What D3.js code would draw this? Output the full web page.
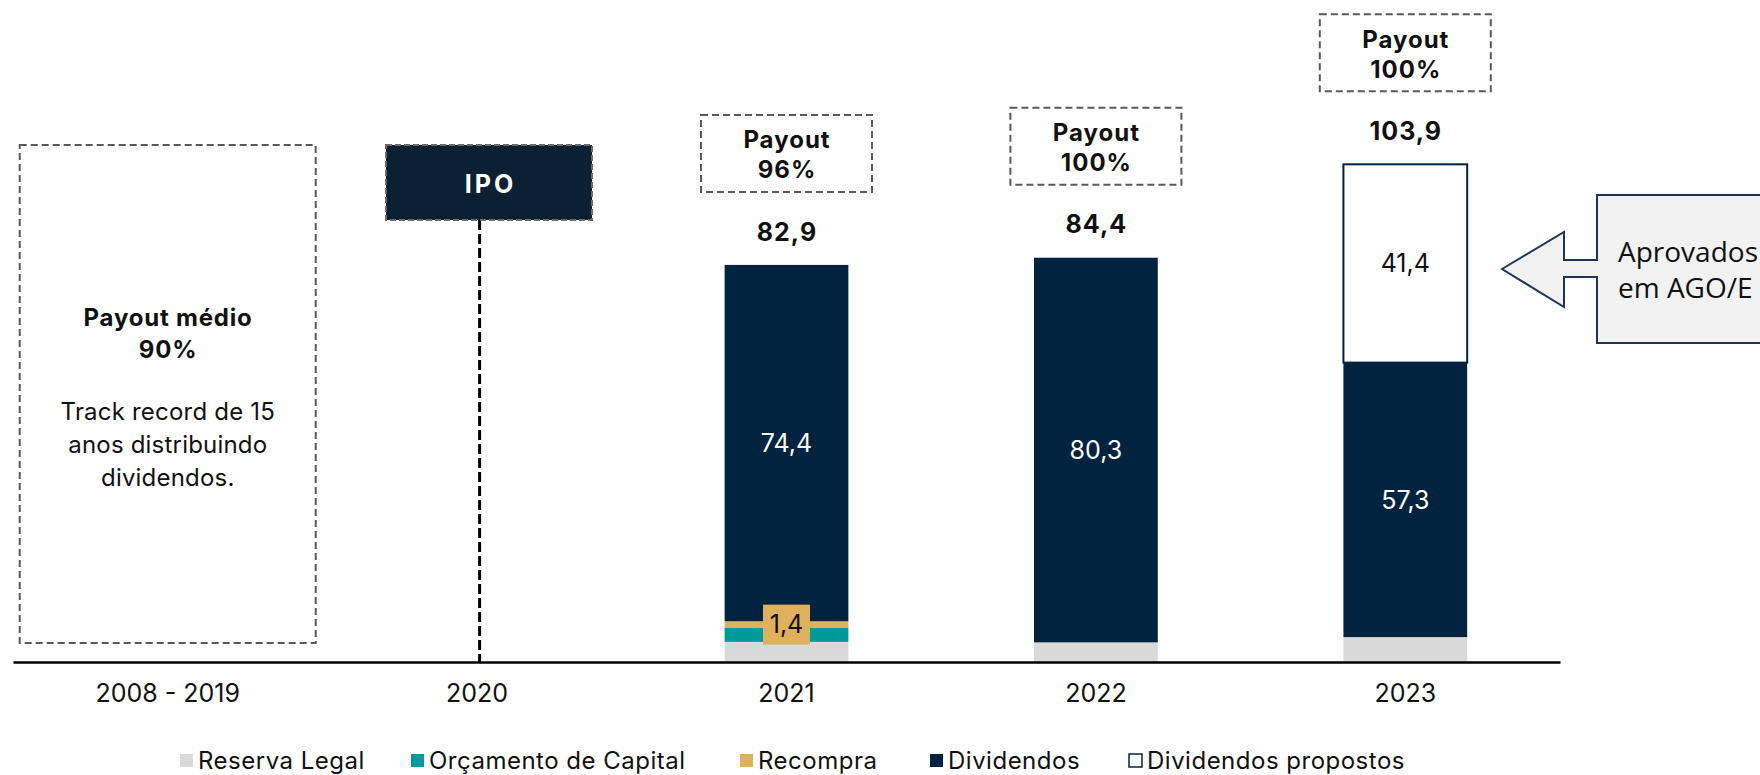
<!DOCTYPE html>
<html><head><meta charset="utf-8">
<script src="https://cdn.jsdelivr.net/npm/d3@7"></script>
<style>
html,body{margin:0;padding:0;background:#fff;}
svg{display:block;font-family:Inter,"Noto Sans",sans-serif;}
</style></head>
<body>
<svg id="c" width="1760" height="775"></svg>
<script>
// ---- data ----
const categories = ["2008 - 2019", "2020", "2021", "2022", "2023"];
const reservaLegal = [0, 0, 4.2, 4.1, 5.2];
const orcamentoCapital = [0, 0, 2.9, 0, 0];
const recompra = [0, 0, 1.4, 0, 0];
const dividendos = [0, 0, 74.4, 80.3, 57.3];
const dividendosPropostos = [0, 0, 0, 0, 41.4];
const totals = [null, null, 82.9, 84.4, 103.9];
const payoutLabels = [null, null, "96%", "100%", "100%"];
const seriesNames = ["Reserva Legal", "Orçamento de Capital", "Recompra", "Dividendos", "Dividendos propostos"];
const leftNoteTitle = ["Payout médio", "90%"];
const leftNoteText = ["Track record de 15", "anos distribuindo", "dividendos."];
const calloutText = ["Aprovados", "em AGO/E"];

// ---- setup ----
const svg = d3.select("#c");
const navy = "#02233f";
const colors = ["#d9d9d9", "#009a9a", "#dfb15f", navy, "#ffffff"];
const fmt = d3.formatLocale({decimal: ",", thousands: ".", grouping: [3], currency: ["", ""]}).format(".1f");

const x = d3.scaleBand().domain(categories).range([13, 1560]).paddingInner(0.6).paddingOuter(0.3);
const y = d3.scaleLinear().domain([0, 100]).range([662, 183]);

const rows = categories.map((c, i) => ({
  cat: c, reservaLegal: reservaLegal[i], orcamentoCapital: orcamentoCapital[i],
  recompra: recompra[i], dividendos: dividendos[i], dividendosPropostos: dividendosPropostos[i]
}));
const keys = ["reservaLegal", "orcamentoCapital", "recompra", "dividendos", "dividendosPropostos"];
const stack = d3.stack().keys(keys)(rows);

// helper: centred text with letter-spacing compensation
function ctext(sel, tx, ty, str, size, weight, fill, ls) {
  ls = ls || 0;
  return sel.append("text").attr("x", tx + ls / 2).attr("y", ty).attr("dy", "0.35em")
    .attr("text-anchor", "middle").attr("font-size", size).attr("font-weight", weight || 400)
    .attr("letter-spacing", ls).attr("fill", fill || "#111").text(str);
}

// bars
const g = svg.append("g");
stack.forEach((layer, li) => {
  g.selectAll(null).data(layer.filter(d => d[1] - d[0] > 0)).enter().append("rect")
    .attr("x", d => x(d.data.cat))
    .attr("width", x.bandwidth())
    .attr("y", d => y(d[1]))
    .attr("height", d => y(d[0]) - y(d[1]))
    .attr("fill", colors[li])
    .attr("stroke", li === 4 ? navy : "none")
    .attr("stroke-width", li === 4 ? 2 : 0);
});

// segment labels
stack[3].filter(d => d[1] - d[0] > 0).forEach(d => {
  ctext(g, x(d.data.cat) + x.bandwidth() / 2, (y(d[0]) + y(d[1])) / 2, fmt(d[1] - d[0]), 25, 400, "#fff");
});
stack[4].filter(d => d[1] - d[0] > 0).forEach(d => {
  ctext(g, x(d.data.cat) + x.bandwidth() / 2, (y(d[0]) + y(d[1])) / 2, fmt(d[1] - d[0]), 25, 400, "#111");
});
stack[2].filter(d => d[1] - d[0] > 0).forEach(d => {
  const cx = x(d.data.cat) + x.bandwidth() / 2, cy = (y(d[0]) + y(d[1])) / 2;
  g.append("rect").attr("x", cx - 23.5).attr("y", cy - 20).attr("width", 47).attr("height", 40).attr("fill", colors[2]);
  ctext(g, cx, cy, fmt(d[1] - d[0]), 25, 400, "#111");
});

// totals + payout boxes
categories.forEach((c, i) => {
  if (totals[i] == null) return;
  const cx = x(c) + x.bandwidth() / 2;
  const top = y(totals[i]);
  ctext(g, cx, top - 33, fmt(totals[i]), 25, 700, "#111", 1);
  const bh = 77, bw = 171, by = top - 73 - bh;
  g.append("rect").attr("x", cx - bw / 2).attr("y", by).attr("width", bw).attr("height", bh)
    .attr("fill", "none").attr("stroke", "#595959").attr("stroke-width", 2).attr("stroke-dasharray", "7,4");
  ctext(g, cx, by + 25, "Payout", 24, 700, "#111", 1);
  ctext(g, cx, by + 55, payoutLabels[i], 24, 700, "#111", 1);
});

// left note box
{
  const cx = x(categories[0]) + x.bandwidth() / 2;
  g.append("rect").attr("x", cx - 148).attr("y", 145).attr("width", 296).attr("height", 498)
    .attr("fill", "none").attr("stroke", "#595959").attr("stroke-width", 2).attr("stroke-dasharray", "7,4");
  leftNoteTitle.forEach((t, k) => ctext(g, cx, 318 + k * 32, t, 24, 700, "#111", 0.8));
  leftNoteText.forEach((t, k) => ctext(g, cx, 412 + k * 33, t, 24, 400, "#111", 0.2));
}

// IPO
{
  const cx = x(categories[1]) + x.bandwidth() / 2 + 2.5;
  g.append("line").attr("x1", cx).attr("x2", cx).attr("y1", 220).attr("y2", 662)
    .attr("stroke", "#000").attr("stroke-width", 3).attr("stroke-dasharray", "10,4");
  g.append("rect").attr("x", 386).attr("y", 145).attr("width", 206).attr("height", 75)
    .attr("fill", "#0b2133").attr("stroke", "#6b6b6b").attr("stroke-width", 2).attr("stroke-dasharray", "6,3");
  ctext(g, 489, 184, "IPO", 25, 700, "#fff", 3);
}

// axis
const ax = svg.append("g").attr("transform", "translate(0,662)")
  .call(d3.axisBottom(x).tickSize(0).tickPadding(22));
ax.select(".domain").attr("stroke", "#000").attr("stroke-width", 2.5);
ax.selectAll("text").attr("font-size", 25).attr("font-family", "Inter, sans-serif").attr("fill", "#111");

// callout arrow
{
  const path = "M1502,269 L1564,232 L1564,260 L1597,260 L1597,195 L1790,195 L1790,343 L1597,343 L1597,277 L1564,277 L1564,307 Z";
  svg.append("path").attr("d", path).attr("fill", "#f2f2f2").attr("stroke", "#1d3557").attr("stroke-width", 2);
  calloutText.forEach((t, k) => svg.append("text").attr("x", 1618).attr("y", 252 + k * 36).attr("dy", "0.35em")
    .attr("font-family", "'Open Sans', sans-serif").attr("font-size", 28).attr("fill", "#111").text(t));
}

// legend
const legX = [180, 411, 740, 930, 1129];
const leg = svg.append("g");
seriesNames.forEach((n, i) => {
  leg.append("rect").attr("x", legX[i]).attr("y", 754).attr("width", 13).attr("height", 13)
    .attr("fill", colors[i]).attr("stroke", i === 4 ? navy : "none").attr("stroke-width", 1.5);
  leg.append("text").attr("x", legX[i] + 18).attr("y", 761).attr("dy", "0.35em")
    .attr("font-size", 24).attr("letter-spacing", 0.5).attr("fill", "#111").text(n);
});
</script>
</body></html>
